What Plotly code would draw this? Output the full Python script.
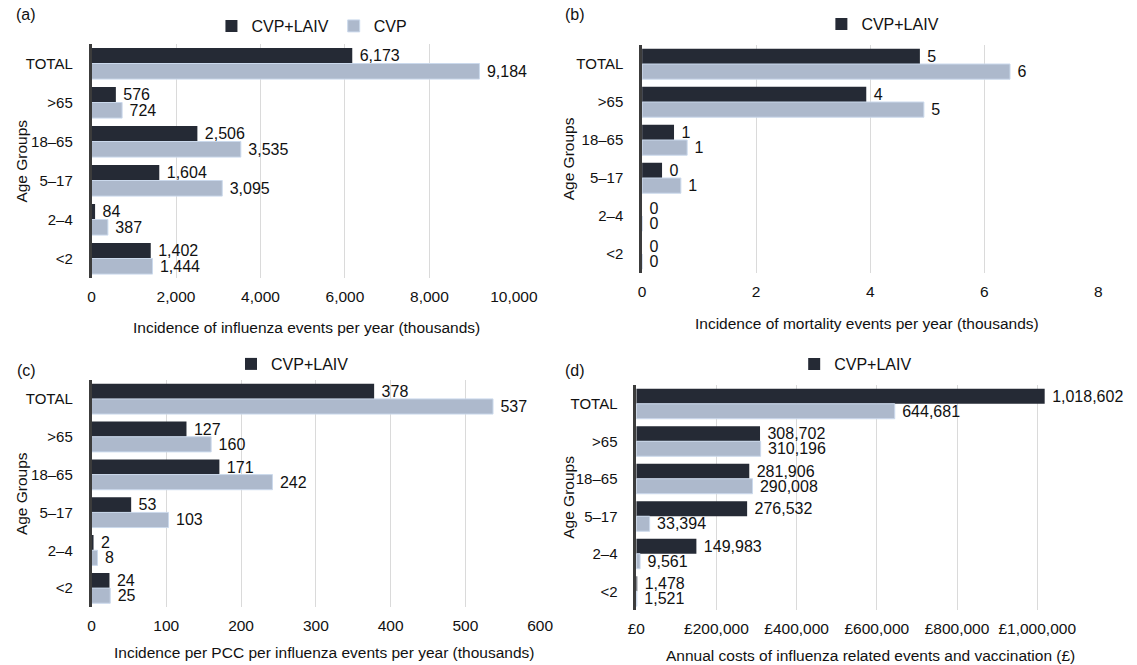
import plotly.graph_objects as go

# Age groups, listed top to bottom
age_groups = ["TOTAL", ">65", "18–65", "5–17", "2–4", "<2"]

# (a) Incidence of influenza events per year (thousands)
flu_cvp_laiv = [6173, 576, 2506, 1604, 84, 1402]
flu_cvp = [9184, 724, 3535, 3095, 387, 1444]

# (b) Incidence of mortality events per year (thousands)
mort_cvp_laiv = [4.87, 3.93, 0.56, 0.35, 0, 0]
mort_cvp = [6.45, 4.94, 0.79, 0.68, 0, 0]

# (c) Incidence per PCC per influenza events per year (thousands)
pcc_cvp_laiv = [378, 127, 171, 53, 2, 24]
pcc_cvp = [537, 160, 242, 103, 8, 25]

# (d) Annual costs of influenza related events and vaccination (£)
cost_cvp_laiv = [1018602, 308702, 281906, 276532, 149983, 1478]
cost_cvp = [644681, 310196, 290008, 33394, 9561, 1521]

DARK = "#252a35"
LIGHT = "#adb9cc"
LIGHT_EDGE = "#cbd9ec"
INK = "#111111"
FONT = "Liberation Sans, Arial, sans-serif"
W, H = 1137, 665

# pixel layout of each panel: plot box (x0, x1, y0, y1), legend centre, title position
panels = [
    dict(key="(a)", key_xy=(18, 15), dark=flu_cvp_laiv, light=flu_cvp, fmt="%{x:,.0f}",
         box=(85, 520, 44, 278), rng=[0, 10000], dt=2000, prefix="",
         title="Incidence of influenza events per year (thousands)",
         title_xy=(306, 327), legend_xy=(312, 26), ytitle_x=13, both=True),
    dict(key="(b)", key_xy=(583, 15), dark=mort_cvp_laiv, light=mort_cvp, fmt="%{x:.0f}",
         box=(652, 1122, 45, 273), rng=[0, 8], dt=2, prefix="",
         title="Incidence of mortality events per year (thousands)",
         title_xy=(884, 323), legend_xy=(900, 24), ytitle_x=576, both=False),
    dict(key="(c)", key_xy=(18, 370), dark=pcc_cvp_laiv, light=pcc_cvp, fmt="%{x:.0f}",
         box=(85, 547, 380, 607), rng=[0, 600], dt=100, prefix="",
         title="Incidence per PCC per influenza events per year (thousands)",
         title_xy=(324, 652), legend_xy=(292, 364), ytitle_x=13, both=False),
    dict(key="(d)", key_xy=(583, 370), dark=cost_cvp_laiv, light=cost_cvp, fmt="%{x:,.0f}",
         box=(646, 1137, 385, 610), rng=[0, 1189000], dt=200000, prefix="£",
         title="Annual costs of influenza related events and vaccination (£)",
         title_xy=(887, 655), legend_xy=(872, 364), ytitle_x=576, both=False),
]

fig = go.Figure()

for i, p in enumerate(panels):
    n = "" if i == 0 else str(i + 1)
    xa, ya, lg = "x" + n, "y" + n, "legend" + n
    x0, x1, y0, y1 = p["box"]
    label_tmpl = "\u00a0" + p["fmt"]

    fig.add_trace(go.Bar(
        y=age_groups, x=p["dark"], orientation="h", name="CVP+LAIV",
        marker=dict(color=DARK, line=dict(width=0)),
        texttemplate=label_tmpl, textposition="outside", cliponaxis=False,
        constraintext="none", textfont=dict(size=16, color=INK),
        xaxis=xa, yaxis=ya, legend=lg, hoverinfo="skip",
    ))
    fig.add_trace(go.Bar(
        y=age_groups, x=p["light"], orientation="h", name="CVP",
        marker=dict(color=LIGHT, line=dict(width=1, color=LIGHT_EDGE)),
        texttemplate=label_tmpl, textposition="outside", cliponaxis=False,
        constraintext="none", textfont=dict(size=16, color=INK),
        xaxis=xa, yaxis=ya, legend=lg, showlegend=p["both"], hoverinfo="skip",
    ))

    fig.layout["xaxis" + n] = dict(
        domain=[x0 / W, x1 / W], range=p["rng"], dtick=p["dt"], tick0=0,
        tickformat=",", tickprefix=p["prefix"], tickangle=0,
        showgrid=True, gridcolor="#dadada", gridwidth=1,
        zeroline=False, showline=False, ticks="", ticklabelstandoff=7,
        tickfont=dict(size=15.5, color=INK), anchor=ya, fixedrange=True,
    )
    fig.layout["yaxis" + n] = dict(
        domain=[1 - y1 / H, 1 - y0 / H], autorange="reversed",
        showline=True, linecolor="#3c3c3c", linewidth=2.5, ticks="",
        tickfont=dict(size=15, color=INK), anchor=xa, showgrid=False,
        ticklabelstandoff=13, fixedrange=True,
    )

    lx, ly = p["legend_xy"]
    fig.layout[lg] = dict(
        x=lx / W, y=1 - ly / H, xanchor="center", yanchor="middle",
        orientation="h", font=dict(size=16, color=INK), itemwidth=30,
        bgcolor="rgba(0,0,0,0)", traceorder="normal", tracegroupgap=0,
    )

    def note(text, xy, size, angle=0):
        fig.add_annotation(text=text, x=xy[0] / W, y=1 - xy[1] / H, xref="paper", yref="paper",
                           xanchor="center", yanchor="middle", textangle=angle,
                           showarrow=False, font=dict(size=size, color=INK))

    note(p["key"], p["key_xy"], 16)
    note(p["title"], p["title_xy"], 15.5)
    note("Age Groups", (p["ytitle_x"], (y0 + y1) / 2), 15.5, angle=-90)

fig.update_layout(
    width=W, height=H, margin=dict(l=0, r=0, t=0, b=0),
    barmode="group", bargap=0.2, bargroupgap=0,
    paper_bgcolor="white", plot_bgcolor="white",
    font=dict(family=FONT, size=15.5, color=INK),
)

fig.write_html("out.html")
